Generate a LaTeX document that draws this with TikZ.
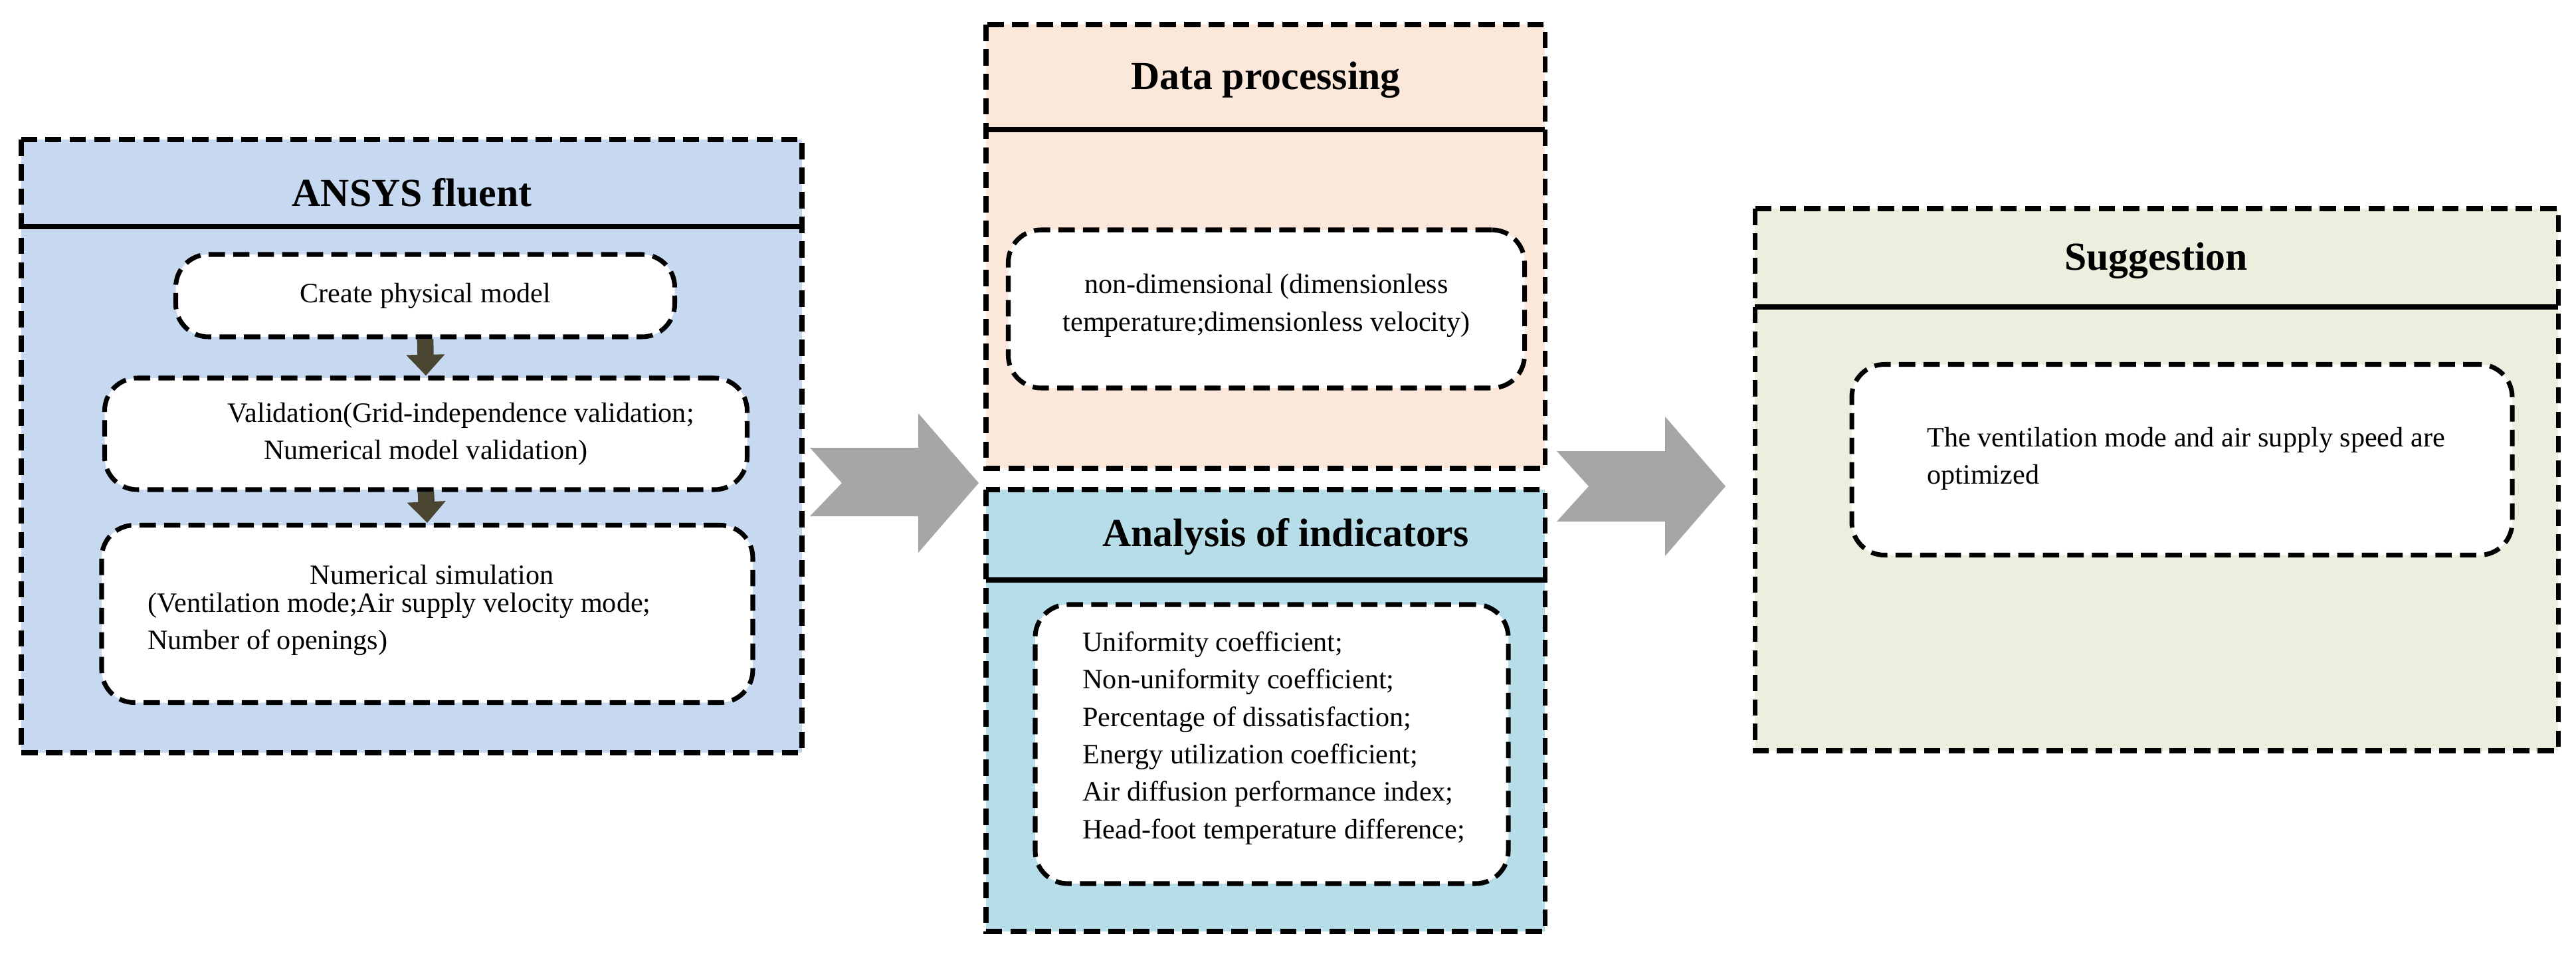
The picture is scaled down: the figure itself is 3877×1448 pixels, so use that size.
\documentclass[tikz,border=0pt]{standalone}
\usepackage{fontspec}
\setmainfont{Liberation Serif}
\usetikzlibrary{arrows.meta}
\definecolor{olv}{RGB}{74,69,48}
\definecolor{bg1}{RGB}{198,217,240}
\definecolor{bg2}{RGB}{252,232,218}
\definecolor{bg3}{RGB}{183,221,232}
\definecolor{bg4}{RGB}{235,240,222}
\definecolor{gry}{RGB}{166,166,166}
\begin{document}
\begin{tikzpicture}[x=0.01cm,y=-0.01cm,
  dsh/.style={draw=black,line width=2pt,dash pattern=on 7pt off 3.5pt},
  outer/.style={dsh},
  inner/.style={dsh,fill=white,rounded corners=14pt},
  title/.style={font=\bfseries\fontsize{17}{20}\selectfont},
  body/.style={font=\fontsize{12}{16}\selectfont},
  small/.style={-{Triangle[length=9pt,width=16pt]},line width=7pt,draw=olv},
  big/.style={fill=gry,draw=none}]
\useasboundingbox (0,0) rectangle (3877,1448);
% ANSYS
\draw[outer,fill=bg1] (32,210) rectangle (1207,1133);
\draw[line width=2pt] (32,341) -- (1207,341);
\node[title] (t1) at (620,290) {ANSYS fluent};
\node[inner,minimum width=751*0.01cm,minimum height=124*0.01cm,body] (c1) at (640,445) {Create physical model};
\node[inner,minimum width=967*0.01cm,minimum height=168*0.01cm,body,align=center] (c2) at (641,653) {\hspace*{2.5em}Validation(Grid-independence validation;\\Numerical model validation)};
\node[inner,minimum width=980*0.01cm,minimum height=267*0.01cm] (c3) at (643,924) {};
\node[body,anchor=north] (s1) at (650,838) {Numerical simulation};
\node[body,anchor=north west,align=left] (s2) at (210,880) {(Ventilation mode;Air supply velocity mode;\\Number of openings)};
\draw[small] (c1.south) -- (c2.north);
\draw[small] (c2.south) -- (c3.north);
% Data processing
\draw[outer,fill=bg2] (1484,37) rectangle (2325,705);
\draw[line width=2pt] (1484,195) -- (2325,195);
\node[title] (t2) at (1905,120) {Data processing};
\node[inner,minimum width=777*0.01cm,minimum height=238*0.01cm] (d1) at (1906,465) {};
\node[body,align=center] (d1t) at (1906,460) {non-dimensional (dimensionless\\temperature;dimensionless velocity)};
% Analysis
\draw[outer,fill=bg3] (1484,737) rectangle (2325,1402);
\draw[line width=2pt] (1484,873) -- (2325,873);
\node[title] (t3) at (1935,808) {Analysis of indicators};
\node[inner,minimum width=712*0.01cm,minimum height=420*0.01cm] (a1) at (1914,1120) {};
\node[body,align=left,anchor=west] (a1t) at (1617,1111) {Uniformity coefficient;\\Non-uniformity coefficient;\\Percentage of dissatisfaction;\\Energy utilization coefficient;\\Air diffusion performance index;\\Head-foot temperature difference;};
% Suggestion
\draw[outer,fill=bg4] (2641,314) rectangle (3850,1130);
\draw[line width=2pt] (2641,462) -- (3850,462);
\node[title] (t4) at (3245,392) {Suggestion};
\node[inner,minimum width=994*0.01cm,minimum height=287*0.01cm] (g1) at (3284,692) {};
\node[body,align=left,anchor=west] (g1t) at (2888,690) {The ventilation mode and air supply speed are\\optimized};
% big arrows
\fill[big] (1219,674) -- (1382,674) -- (1382,622) -- (1473,727) -- (1382,832) -- (1382,777) -- (1219,777) -- (1267,727) -- cycle;
\fill[big] (2343,679) -- (2506,679) -- (2506,627) -- (2597,732) -- (2506,837) -- (2506,785) -- (2343,785) -- (2391,732) -- cycle;
\end{tikzpicture}
\end{document}
